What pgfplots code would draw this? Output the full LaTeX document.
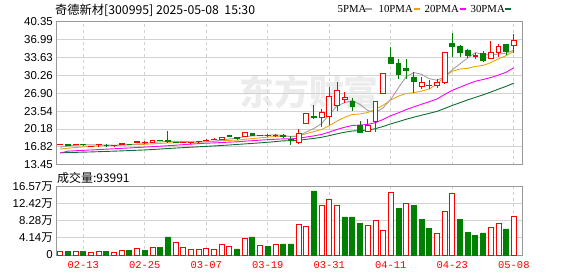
\documentclass[border=0pt]{standalone}
\usepackage{fontspec}
\setmainfont{Liberation Sans}
\newfontfamily\cjk{Noto Sans CJK SC}
\newfontfamily\serifm{Liberation Serif}
\newfontfamily\monof{Liberation Mono}
\usepackage{pgfplots}
\usepackage{pgfplotstable}
\pgfplotsset{compat=1.18}

\definecolor{kred}{HTML}{FF0000}
\definecolor{kgreen}{HTML}{008000}
\definecolor{ma5c}{HTML}{A0A0A0}
\definecolor{ma10c}{HTML}{F0A30A}
\definecolor{ma20c}{HTML}{FF00FF}
\definecolor{ma30c}{HTML}{0B6E34}
\definecolor{framec}{HTML}{999999}
\definecolor{gridc}{HTML}{D2D2D2}
\definecolor{wmc}{HTML}{ECECEC}

% candles: x open high low close
\pgfplotstableread{
x O H L C
0 17.20 17.35 17.15 17.28
2 17.25 17.30 17.20 17.28
4 16.90 16.95 16.85 16.93
5 17.20 17.25 16.85 17.24
7 17.01 17.08 16.98 17.05
8 17.28 17.47 17.25 17.45
10 17.70 17.97 17.50 17.74
11 17.57 17.97 17.35 17.60
12 17.66 18.10 17.66 18.10
16 17.64 17.70 17.60 17.67
17 17.58 17.63 17.55 17.61
18 17.76 17.82 17.72 17.79
19 18.00 18.20 17.90 18.05
20 18.20 18.40 18.10 18.24
21 18.15 18.65 18.10 18.60
24 18.72 19.60 18.70 19.55
26 18.96 19.02 18.94 19.00
28 18.98 19.20 18.70 19.02
31 17.60 20.10 17.40 19.28
32 21.16 23.20 21.10 23.12
34 22.37 23.93 20.60 23.36
35 22.55 28.00 20.92 26.37
36 24.62 29.00 23.50 27.45
37 25.75 27.18 25.00 26.13
40 19.66 22.00 19.55 20.79
41 21.61 25.40 19.60 25.37
42 26.88 30.64 26.88 30.64
47 28.12 29.90 27.63 28.90
48 28.30 29.38 27.70 28.45
49 28.44 29.50 27.82 28.95
50 28.95 34.59 28.60 34.59
54 33.85 34.40 33.28 33.95
56 33.40 36.66 33.28 34.65
57 34.59 36.10 33.77 35.78
59 35.84 38.04 34.40 36.85
}\up

\pgfplotstableread{
x O H L C
1 17.20 17.30 17.10 17.16
3 17.25 17.30 17.15 17.22
6 17.12 17.35 16.80 17.08
9 17.30 17.40 17.20 17.27
13 18.06 18.16 17.85 18.02
14 17.95 19.79 17.75 17.80
15 17.68 17.80 17.55 17.64
22 18.87 19.05 18.70 18.84
23 18.60 18.70 18.30 18.35
25 19.35 19.45 18.95 18.98
27 18.97 19.17 18.72 18.93
29 19.04 19.17 18.65 18.72
30 18.20 18.85 17.20 17.95
33 22.45 24.70 22.10 22.30
38 25.30 25.94 23.55 24.36
39 20.79 21.67 19.47 19.55
43 33.58 35.65 32.34 32.52
44 32.52 33.28 29.52 30.38
45 31.50 33.30 29.50 31.20
46 29.95 30.80 26.90 29.20
51 36.28 38.17 33.77 35.65
52 35.78 36.03 33.77 34.53
53 35.03 35.15 33.46 33.95
55 34.40 34.90 32.90 33.02
58 36.10 36.16 34.09 34.71
}\down

\pgfplotstableread{
x ma5 ma10 ma20 ma30
0 16.75 16.40 15.65 15.70
1 16.95 16.55 16.00 15.73
2 17.10 16.68 16.08 15.77
3 17.20 16.80 16.15 15.81
4 17.17 16.90 16.22 15.85
5 17.17 16.98 16.30 15.90
6 17.15 17.05 16.37 15.95
7 17.10 17.10 16.45 16.00
8 17.15 17.15 16.53 16.05
9 17.22 17.20 16.60 16.11
10 17.32 17.24 16.68 16.17
11 17.42 17.29 16.76 16.23
12 17.63 17.37 16.85 16.30
13 17.75 17.45 16.93 16.40
14 17.85 17.54 17.02 16.50
15 17.83 17.58 17.12 16.58
16 17.85 17.63 17.22 16.66
17 17.75 17.69 17.32 16.74
18 17.70 17.72 17.42 16.82
19 17.75 17.80 17.50 16.90
20 17.87 17.85 17.55 16.98
21 18.06 17.95 17.62 17.07
22 18.30 18.03 17.70 17.16
23 18.42 18.06 17.75 17.26
24 18.72 18.23 17.88 17.36
25 18.86 18.37 17.97 17.46
26 18.94 18.50 18.07 17.56
27 18.96 18.63 18.16 17.67
28 19.10 18.76 18.24 17.80
29 18.93 18.82 18.31 17.94
30 18.72 18.79 18.32 17.96
31 18.78 18.86 18.41 18.03
32 19.62 19.29 18.66 18.23
33 20.27 19.69 18.87 18.40
34 21.20 20.07 19.15 18.61
35 22.89 20.81 19.59 18.92
36 24.52 21.65 20.08 19.26
37 25.12 22.37 20.50 19.56
38 25.53 22.90 20.83 19.79
39 24.77 22.99 20.91 19.87
40 23.66 23.27 21.03 19.97
41 23.24 23.88 21.37 20.23
42 24.14 24.63 21.96 20.65
43 25.77 25.65 22.67 21.13
44 27.94 26.36 23.21 21.55
45 30.02 26.84 23.82 22.00
46 30.79 27.01 24.33 22.39
47 30.44 27.29 24.83 22.76
48 29.63 27.70 25.30 23.12
49 29.34 28.64 25.81 23.48
50 30.02 30.02 26.65 24.03
51 31.31 31.05 27.46 24.60
52 32.43 31.44 28.03 25.12
53 33.53 31.58 28.62 25.64
54 34.53 31.94 29.15 26.12
55 34.22 32.12 29.48 26.59
56 34.02 32.66 29.84 27.11
57 34.27 33.35 30.32 27.67
58 34.42 33.98 30.84 28.19
59 35.00 34.77 31.70 28.80
}\ma

% volume in units of 10^4 (wan)
\pgfplotstableread{
x V
0 0.89
2 0.89
4 0.65
5 0.89
7 0.65
8 1.13
10 1.70
12 1.94
15 3.15
16 1.94
17 1.46
18 1.46
19 1.70
20 1.46
21 2.59
22 2.18
24 4.12
26 2.35
28 2.59
31 7.44
32 6.95
34 12.05
35 13.50
36 12.05
40 7.20
41 8.49
42 5.99
43 15.20
45 12.54
49 5.26
50 10.60
51 14.96
56 6.71
57 7.68
59 9.40
}\volup

\pgfplotstableread{
x V
1 0.97
3 0.97
6 0.97
9 1.13
11 1.21
13 1.78
14 4.37
23 1.46
25 4.37
27 2.18
29 2.67
30 2.67
33 15.53
37 9.22
38 9.22
39 7.76
44 11.40
46 12.13
47 8.73
48 6.55
52 8.73
53 5.58
54 4.85
55 5.34
58 6.31
}\voldown

\pgfplotsset{
  kbase/.style={
    scale only axis, width=466.3bp,
    xmin=-0.55, xmax=60.1,
    axis line style={framec, line width=0.9bp},
    major tick length=0pt,
    tick style={draw=none},
  },
}

\begin{document}
\begin{tikzpicture}
\path[use as bounding box] (0,0) rectangle (578bp,-276bp);

% watermark
\node[text=wmc, font=\cjk\bfseries\fontsize{35}{35}\selectfont, inner sep=0pt] at (309bp,-92bp) {东方财富};

% main price axis
\begin{axis}[kbase, at={(56bp,-164.7bp)}, anchor=south west, height=143bp,
  ymin=13.45, ymax=40.35,
  xtick={3,11,19,27,35,43,51,59}, xticklabels={},
  ytick={13.45,16.8125,20.175,23.5375,26.9,30.2625,33.625,36.9875,40.35},
  yticklabels={13.45,16.82,20.18,23.54,26.90,30.26,33.63,36.99,40.35},
  yticklabel style={anchor=east, inner sep=0pt, xshift=-3bp, font=\fontsize{11.5}{12}\selectfont},
  xmajorgrids, ymajorgrids,
  grid style={gridc, line width=0.9bp},
  every major x grid/.style={dash pattern=on 3bp off 3bp},
]
\addplot[ma30c, line width=0.9bp, mark=none] table[x=x, y=ma30]{\ma};
\addplot[ma20c, line width=0.9bp, mark=none] table[x=x, y=ma20]{\ma};
\addplot[ma10c, line width=0.9bp, mark=none] table[x=x, y=ma10]{\ma};
\addplot[ma5c, line width=0.9bp, mark=none] table[x=x, y=ma5]{\ma};
\addplot[draw=none, mark=none, error bars/.cd, y dir=both, y explicit, error mark=none,
  error bar style={draw=kred, line width=0.9bp}]
  table[x=x, y=C, y error plus expr=\thisrow{H}-\thisrow{C}, y error minus expr=\thisrow{C}-\thisrow{L}]{\up};
\addplot[draw=none, mark=none, error bars/.cd, y dir=both, y explicit, error mark=none,
  error bar style={draw=kgreen, line width=0.9bp}]
  table[x=x, y=C, y error plus expr=\thisrow{H}-\thisrow{C}, y error minus expr=\thisrow{C}-\thisrow{L}]{\down};
\end{axis}

% bodies of rising candles
\begin{axis}[kbase, at={(56bp,-164.7bp)}, anchor=south west, height=143bp,
  ymin=13.45, ymax=40.35, hide axis, ybar stacked, bar width=4.8bp]
\addplot[draw=none, fill=none] table[x=x, y=O]{\up};
\addplot[draw=kred, fill=white, line width=0.9bp] table[x=x, y expr=\thisrow{C}-\thisrow{O}]{\up};
\end{axis}

% bodies of falling candles
\begin{axis}[kbase, at={(56bp,-164.7bp)}, anchor=south west, height=143bp,
  ymin=13.45, ymax=40.35, hide axis, ybar stacked, bar width=4.8bp]
\addplot[draw=none, fill=none] table[x=x, y=C]{\down};
\addplot[draw=kgreen, fill=kgreen, line width=0.9bp] table[x=x, y expr=\thisrow{O}-\thisrow{C}]{\down};
\end{axis}

% volume axis
\begin{axis}[kbase, at={(56bp,-255bp)}, anchor=south west, height=68.3bp,
  ymin=0, ymax=16.57,
  xtick={3,11,19,27,35,43,51,59},
  xticklabels={02-13,02-25,03-07,03-19,03-31,04-11,04-23,05-08},
  xticklabel style={text=kred, anchor=north, yshift=-3bp, font=\monof\fontsize{10.5}{11}\selectfont},
  ytick={0,4.1425,8.285,12.4275,16.57},
  yticklabels={0,4.14{\cjk 万},8.28{\cjk 万},12.42{\cjk 万},16.57{\cjk 万}},
  yticklabel style={anchor=east, inner sep=0pt, xshift=-3bp, font=\fontsize{11.5}{12}\selectfont},
  xmajorgrids, ymajorgrids,
  grid style={gridc, line width=0.9bp},
  every major x grid/.style={dash pattern=on 3bp off 3bp},
  ybar, bar width=5bp,
]
\addplot[draw=kred, fill=white, line width=0.9bp, bar shift=0pt] table[x=x, y=V]{\volup};
\addplot[draw=kgreen, fill=kgreen, line width=0.9bp, bar shift=0pt] table[x=x, y=V]{\voldown};
\end{axis}

% title, volume caption, legend
\node[anchor=west, inner sep=0pt, font=\cjk\fontsize{12.3}{13}\selectfont] at (55bp,-10bp) {奇德新材[300995] 2025-05-08~~15:30};
\node[anchor=west, inner sep=0pt, font=\cjk\fontsize{12}{13}\selectfont] at (57bp,-178bp) {成交量:93991};

\begin{scope}[font=\serifm\fontsize{10.8}{11}\selectfont]
\node[anchor=west, inner sep=0pt] at (337.5bp,-9bp) {5PMA};
\node[anchor=west, inner sep=0pt] at (378.5bp,-9bp) {10PMA};
\node[anchor=west, inner sep=0pt] at (424.5bp,-9bp) {20PMA};
\node[anchor=west, inner sep=0pt] at (470.5bp,-9bp) {30PMA};
\end{scope}
\fill[ma5c] (365bp,-7.8bp) rectangle (371.5bp,-10.4bp);
\fill[ma10c] (413.5bp,-7.8bp) rectangle (420bp,-10.4bp);
\fill[ma20c] (459.7bp,-7.8bp) rectangle (466bp,-10.4bp);
\fill[ma30c] (504.7bp,-7.8bp) rectangle (511bp,-10.4bp);
\end{tikzpicture}
\end{document}
